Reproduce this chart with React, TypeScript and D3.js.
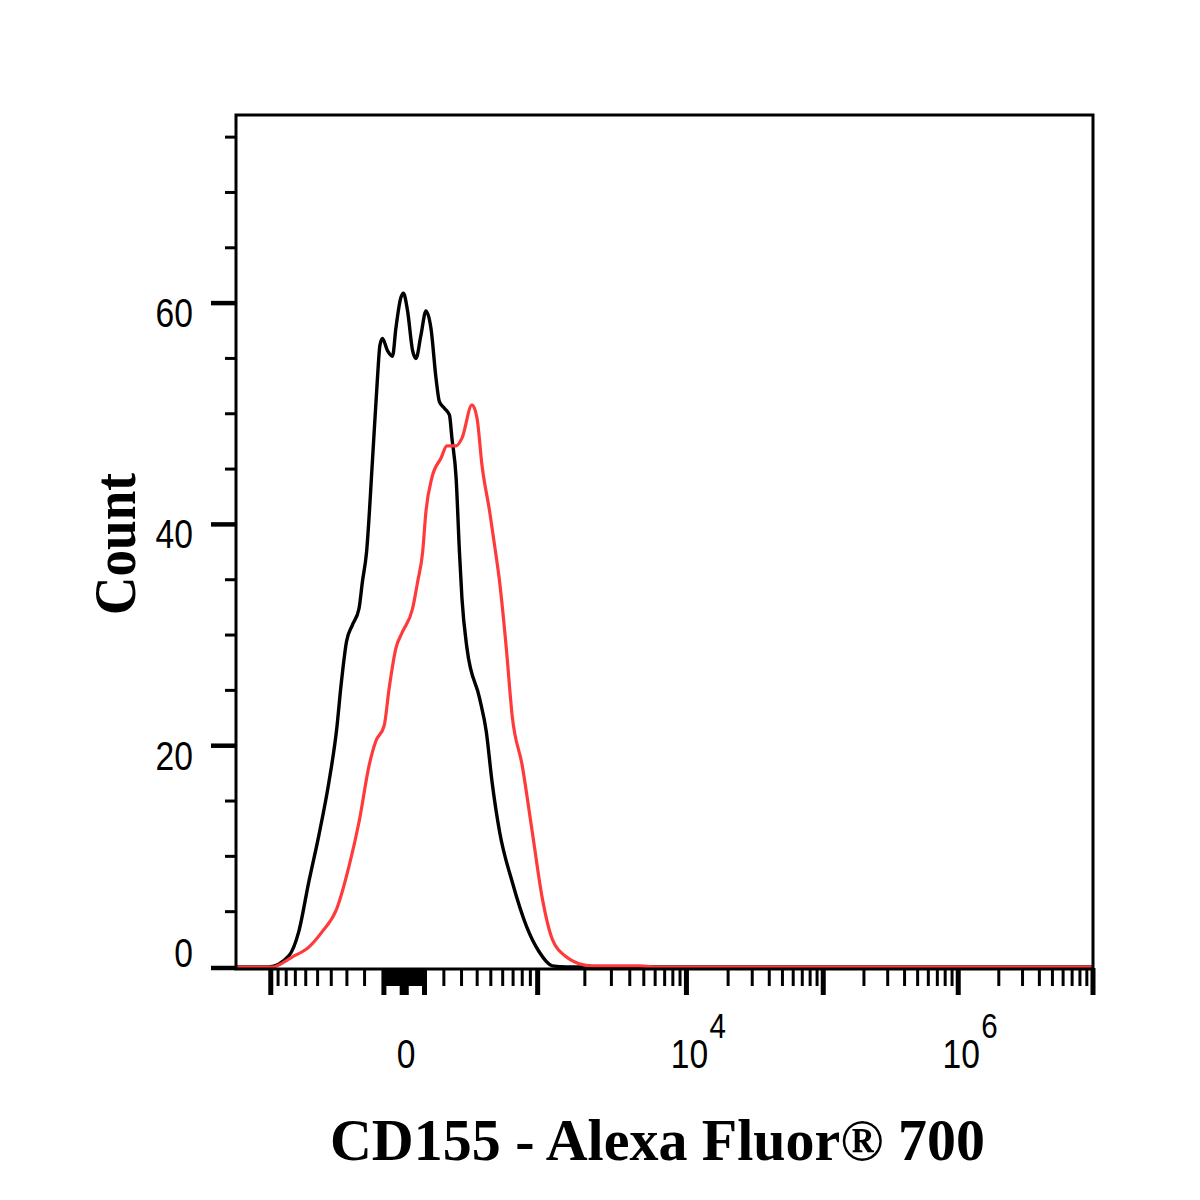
import React from "react";
import * as d3 from "d3";

// Histogram data: x in display channels (0..1024, biexponential axis), y = event count
const blackX = [0,39,63,75,87,99,111,120,126,132,139,147,151,156,163,169,172,175,181,187,191,197,200,205,211,215,221,227,233,239,243,249,255,258,263,267,270,276,291,299,306,315,330,347,362,378,395,1024];
const blackY = [0,0,1.0,3.2,7.7,11.9,16.7,21.3,25.8,29.4,30.9,32.4,34.8,37.5,45.7,53.2,56.2,56.8,55.7,55.2,57.7,60.5,60.9,59.3,55.7,55.0,57.1,59.3,57.7,53.2,51.1,50.5,49.9,47.8,44.2,37.5,33.3,28.8,24.3,21.3,16.7,12.2,7.7,3.7,1.4,0.1,0,0];

const redX = [0,43,67,87,103,120,135,147,159,167,177,183,191,199,211,217,223,227,234,245,252,263,270,282,288,294,303,309,315,323,330,342,354,366,378,395,410,426,482,500,1024];
const redY = [0,0,0.9,1.8,3.2,5.2,9.1,13.1,18.2,20.4,21.8,25.2,28.8,30.3,32.4,34.8,37.5,41.2,44.2,46.0,47.1,47.1,47.8,50.8,49.6,45.3,41.2,38.1,34.8,28.8,22.7,18.2,12.2,6.2,2.5,0.9,0.3,0.1,0.1,0,0];

const yMajorTicks = [0, 20, 40, 60];
const yMinorTicks = [5, 10, 15, 25, 30, 35, 45, 50, 55, 65, 70, 75];
const xMajorTicks = [-1000, -100, -10, 0, 10, 100, 1000, 1e4, 1e5, 1e6, 1e7];
const xMinorMultipliers = [2, 3, 4, 5, 6, 7, 8, 9];
const xLabelTicks = [
  { value: 0, base: "0", exp: "" },
  { value: 1e4, base: "10", exp: "4" },
  { value: 1e6, base: "10", exp: "6" },
];
const xTitle = "CD155 - Alexa Fluor® 700";
const yTitle = "Count";

// Biexponential (logicle-like) transform parameters
const T = 1e7;
const P = 2.7;
const NCH = 1024;
const ZERO_CH = 201;
const DECADE_CH = 161;
const chPerLn = DECADE_CH / Math.LN10;
const topLn = (NCH - ZERO_CH) / chPerLn;
const K = T / (Math.exp(topLn) - P * P * Math.exp(-topLn / P) + P * P - 1);

function S(d: number) {
  const s = Math.abs(d);
  const v = K * (Math.exp(s) - P * P * Math.exp(-s / P) + P * P - 1);
  return d < 0 ? -v : v;
}
function toChannel(v: number) {
  let lo = -30, hi = 30;
  for (let i = 0; i < 80; i++) {
    const mid = (lo + hi) / 2;
    if (S(mid) < v) lo = mid; else hi = mid;
  }
  return ZERO_CH + ((lo + hi) / 2) * chPerLn;
}

const L = 236, R = 1093, TOP = 115, BOT = 968;

export default function App() {
  const x = d3.scaleLinear().domain([0, NCH]).range([L, R]);
  const y = d3.scaleLinear().domain([0, 77]).range([BOT - 1, TOP]);

  const line = d3
    .line<[number, number]>()
    .x((d) => x(d[0]))
    .y((d) => y(d[1]))
    .curve(d3.curveMonotoneX);

  const blackPts = blackX.map((v, i) => [v, blackY[i]] as [number, number]);
  const redPts = redX.map((v, i) => [v, redY[i]] as [number, number]);

  const minorVals: number[] = [];
  [10, 100].forEach((dec) => xMinorMultipliers.forEach((m) => { minorVals.push(m * dec); minorVals.push(-m * dec); }));
  [1000, 1e4, 1e5, 1e6].forEach((dec) => xMinorMultipliers.forEach((m) => minorVals.push(m * dec)));

  const font = "'Liberation Sans', Arial, sans-serif";
  const serif = "'Liberation Serif', 'Times New Roman', serif";

  return (
    <svg width={1200} height={1200} style={{ position: "absolute", left: 0, top: 0, background: "#fff" }}>
      <rect x={0} y={0} width={1200} height={1200} fill="#fff" />
      {/* curves */}
      <path d={line(blackPts) || ""} fill="none" stroke="#000" strokeWidth={3.4} strokeLinejoin="round" />
      <path d={line(redPts) || ""} fill="none" stroke="#ff3a3a" strokeWidth={3.2} strokeLinejoin="round" />
      {/* frame */}
      <rect x={L} y={TOP} width={R - L} height={BOT + 1 - TOP} fill="none" stroke="#000" strokeWidth={3} />
      {/* y ticks */}
      {yMajorTicks.map((v) => (
        <line key={"ym" + v} x1={211} x2={L} y1={v === 0 ? BOT : y(v)} y2={v === 0 ? BOT : y(v)} stroke="#000" strokeWidth={4.5} />
      ))}
      {yMinorTicks.map((v) => (
        <line key={"yn" + v} x1={225} x2={L} y1={y(v)} y2={y(v)} stroke="#000" strokeWidth={3} />
      ))}
      {yMajorTicks.map((v) => {
        const yy = v === 0 ? BOT - 1 : y(v) + 24;
        return (
          <text key={"yl" + v} transform={`translate(193,${yy}) scale(0.82,1)`} textAnchor="end" fontFamily={font} fontSize={41} fill="#000">
            {String(v)}
          </text>
        );
      })}
      {/* x ticks */}
      {xMajorTicks.map((v) => {
        const xx = x(toChannel(v));
        return <line key={"xm" + v} x1={xx} x2={xx} y1={BOT} y2={995} stroke="#000" strokeWidth={5} />;
      })}
      {minorVals.map((v) => {
        const xx = x(toChannel(v));
        return <line key={"xn" + v} x1={xx} x2={xx} y1={BOT} y2={986} stroke="#000" strokeWidth={3} />;
      })}
      {xLabelTicks.map((t) => {
        const xx = x(toChannel(t.value));
        if (!t.exp) {
          return (
            <text key={"xl" + t.value} transform={`translate(${xx + 2},1068) scale(0.82,1)`} textAnchor="middle" fontFamily={font} fontSize={41} fill="#000">
              {t.base}
            </text>
          );
        }
        return (
          <g key={"xl" + t.value}>
            <text transform={`translate(${xx + 3},1068) scale(0.82,1)`} textAnchor="middle" fontFamily={font} fontSize={41} fill="#000">
              {t.base}
            </text>
            <text transform={`translate(${xx + 23},1038) scale(0.82,1)`} textAnchor="start" fontFamily={font} fontSize={36} fill="#000">
              {t.exp}
            </text>
          </g>
        );
      })}
      {/* titles */}
      <text x={330} y={1160} fontFamily={serif} fontWeight="bold" fontSize={60} textLength={655} lengthAdjust="spacingAndGlyphs" fill="#000">
        {xTitle}
      </text>
      <text transform="translate(135,544) rotate(-90)" textAnchor="middle" fontFamily={serif} fontWeight="bold" fontSize={60} textLength={142} lengthAdjust="spacingAndGlyphs" fill="#000">
        {yTitle}
      </text>
    </svg>
  );
}
